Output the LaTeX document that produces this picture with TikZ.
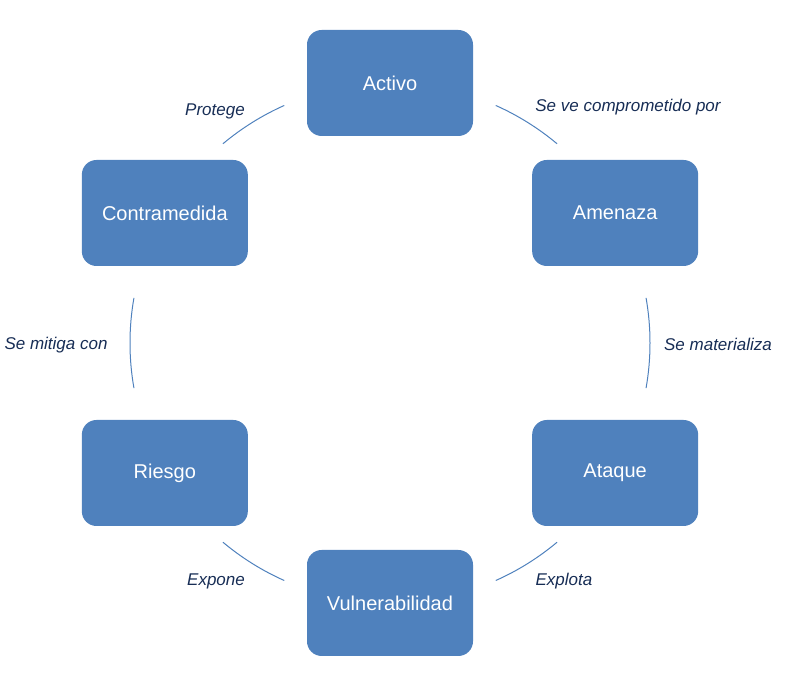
\documentclass[tikz,border=0pt]{standalone}
\usepackage{fontspec}
\setmainfont{Liberation Sans}
\usetikzlibrary{positioning}
\definecolor{boxblue}{RGB}{79,129,189}
\definecolor{labelblue}{RGB}{23,45,85}
\tikzset{every path/.style={line width=0.75pt}}
\tikzset{
  stage/.style={draw=none, fill=boxblue, rounded corners=11pt, text=white,
    minimum width=124.5pt, minimum height=79.5pt, font=\fontsize{15}{18}\selectfont},
  link/.style={text=labelblue, font=\fontsize{12.75}{15}\selectfont\itshape},
  ring/.style={draw=boxblue}
}
\begin{document}
\begin{tikzpicture}[x=0.75pt,y=0.75pt]
\useasboundingbox (0,0) rectangle (804,673);
\coordinate (c) at (390,330);
% the six stages on a circle
\node[stage] (activo) at ([shift={(90:260)}]c) {Activo};
\node[stage] (amenaza) at ([shift={(30:260)}]c) {Amenaza};
\node[stage] (ataque) at ([shift={(-30:260)}]c) {Ataque};
\node[stage] (vuln) at ([shift={(-90:260)}]c) {Vulnerabilidad};
\node[stage] (riesgo) at ([shift={(-150:260)}]c) {Riesgo};
\node[stage] (contra) at ([shift={(150:260)}]c) {Contramedida};
% arcs between them
\draw[ring] ([shift={(66:260)}]c) arc (66:50:260);
\draw[ring] ([shift={(10:260)}]c) arc (10:-10:260);
\draw[ring] ([shift={(-50:260)}]c) arc (-50:-66:260);
\draw[ring] ([shift={(-114:260)}]c) arc (-114:-130:260);
\draw[ring] ([shift={(-170:260)}]c) arc (-170:-190:260);
\draw[ring] ([shift={(130:260)}]c) arc (130:114:260);
% labels
\node[link] (l1) at (628,566) {Se ve comprometido por};
\node[link] (l2) at (718,329) {Se materializa};
\node[link] (l3) at (564,92) {Explota};
\node[link] (l4) at (216,92) {Expone};
\node[link] (l5) at (56,328) {Se mitiga con};
\node[link] (l6) at (215,562) {Protege};
\end{tikzpicture}
\end{document}
